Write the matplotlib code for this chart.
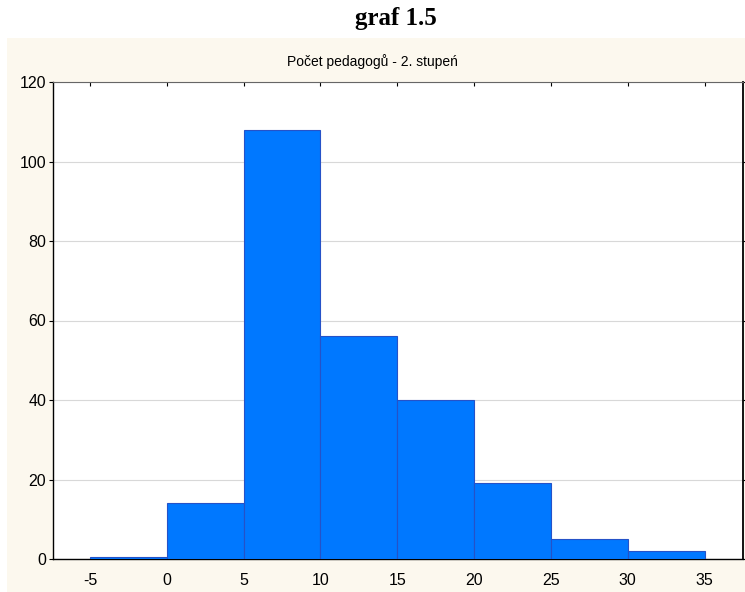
import matplotlib.pyplot as plt
from matplotlib.patches import Rectangle

# histogram bins (left edges) and counts
bin_edges = [-5, 0, 5, 10, 15, 20, 25, 30, 35]
counts = [0.5, 14, 108, 56, 40, 19, 5, 2]
x_ticks = [-5, 0, 5, 10, 15, 20, 25, 30, 35]
y_ticks = [0, 20, 40, 60, 80, 100, 120]

fig = plt.figure(figsize=(7.45, 5.92), dpi=100)
fig.patch.set_facecolor('white')

# cream panel behind the chart
fig.patches.append(Rectangle((7 / 745, 0), 1, 1 - 38 / 592, transform=fig.transFigure,
                             facecolor='#fcf8ee', edgecolor='none', zorder=-5))

fig.text(396 / 745, 1 - 18 / 592, 'graf 1.5', ha='center', va='center',
         fontsize=18, fontweight='bold', family='Liberation Serif')
fig.text(0.5, 1 - 62 / 592, 'Počet pedagogů - 2. stupeń', ha='center', va='center',
         fontsize=10, family='Liberation Sans')

ax = fig.add_axes([53 / 745, 33 / 592, 690 / 745, 477 / 592], zorder=2)
ax.set_facecolor('white')

widths = [bin_edges[i + 1] - bin_edges[i] for i in range(len(counts))]
ax.bar(bin_edges[:-1], counts, width=widths, align='edge',
       color='#0078ff', edgecolor='#2552c8', linewidth=0.8, zorder=3)

ax.set_xlim(-7.4, 37.5)
ax.set_ylim(0, 120)
ax.set_xticks(x_ticks)
ax.set_yticks(y_ticks)
ax.set_xticklabels([str(t) for t in x_ticks], family='Liberation Sans', fontsize=11.5)
ax.set_yticklabels([str(t) for t in y_ticks], family='Liberation Sans', fontsize=11.5)
ax.yaxis.grid(True, color='#d8d8d8', linewidth=0.8, zorder=0)
ax.set_axisbelow(True)

ax.tick_params(axis='y', direction='out', length=3, right=True, width=0.8, pad=2)
ax.tick_params(axis='x', direction='in', length=3, top=True, bottom=False, width=0.8, pad=10)
for side in ['left', 'bottom', 'right']:
    ax.spines[side].set_color('black')
    ax.spines[side].set_linewidth(1.0)
ax.spines['right'].set_linewidth(1.3)
ax.spines['top'].set_color('#666666')

fig.savefig('out.png', dpi=100)
